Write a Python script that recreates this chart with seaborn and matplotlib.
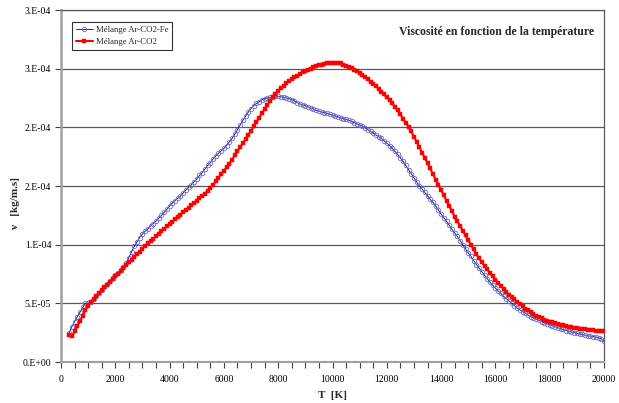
import numpy as np
import pandas as pd
import matplotlib
matplotlib.use("Agg")
import matplotlib.pyplot as plt
import seaborn as sns
from matplotlib.ticker import MultipleLocator, FixedLocator

# Temperature grid (K), 100 K sampling
T = np.arange(300, 20001, 100)

# Viscosity values in units of 1e-5 kg/m.s
fe_vals = [
    2.5, 3.0, 3.45, 3.85, 4.25, 4.65, 5.0,
    5.0, 5.1, 5.4, 5.65, 5.9, 6.15, 6.4, 6.65, 6.9, 7.2,
    7.4, 7.6, 7.85, 8.1, 8.4, 8.9, 9.4, 9.85, 10.25, 10.6,
    10.9, 11.15, 11.35, 11.6, 11.8, 12.0, 12.25, 12.5, 12.75, 13.0,
    13.3, 13.55, 13.75, 13.95, 14.15, 14.4, 14.65, 14.9, 15.1, 15.35,
    15.6, 15.9, 16.15, 16.45, 16.75, 17.0, 17.3, 17.55, 17.8, 18.0,
    18.2, 18.45, 18.75, 19.05, 19.4, 19.8, 20.2, 20.6, 20.95, 21.3,
    21.6, 21.85, 22.05, 22.2, 22.35, 22.45, 22.5, 22.55, 22.6, 22.65,
    22.65, 22.6, 22.55, 22.5, 22.45, 22.35, 22.25, 22.1, 22.0, 21.9,
    21.85, 21.75, 21.65, 21.55, 21.45, 21.4, 21.3, 21.25, 21.2, 21.1,
    21.05, 20.95, 20.9, 20.8, 20.75, 20.7, 20.6, 20.5, 20.4, 20.3,
    20.2, 20.1, 19.95, 19.8, 19.65, 19.5, 19.35, 19.2, 19.05, 18.85,
    18.65, 18.45, 18.2, 17.95, 17.7, 17.4, 17.1, 16.75, 16.4, 16.05,
    15.7, 15.35, 15.0, 14.75, 14.45, 14.15, 13.85, 13.6, 13.3, 12.95,
    12.6, 12.3, 12.0, 11.65, 11.3, 11.0, 10.7, 10.35, 10.0, 9.65,
    9.3, 9.0, 8.65, 8.3, 8.0, 7.7, 7.4, 7.1, 6.8, 6.55,
    6.3, 6.05, 5.85, 5.6, 5.4, 5.2, 5.0, 4.8, 4.6, 4.45,
    4.3, 4.15, 4.0, 3.85, 3.75, 3.65, 3.55, 3.45, 3.35, 3.25,
    3.18, 3.1, 3.0, 2.92, 2.85, 2.77, 2.68, 2.62, 2.56, 2.5,
    2.45, 2.4, 2.35, 2.3, 2.25, 2.2, 2.17, 2.13, 2.08, 1.95,
    1.75,
]

co2_vals = [
    2.3, 2.2, 2.6, 3.05, 3.5, 3.95, 4.4,
    4.8, 5.1, 5.4, 5.65, 5.9, 6.15, 6.4, 6.6, 6.85, 7.05,
    7.3, 7.5, 7.75, 8.0, 8.25, 8.5, 8.7, 8.95, 9.2, 9.4,
    9.65, 9.9, 10.1, 10.3, 10.5, 10.75, 10.95, 11.15, 11.35, 11.55,
    11.75, 11.95, 12.15, 12.35, 12.55, 12.75, 12.95, 13.15, 13.35, 13.55,
    13.75, 13.95, 14.15, 14.35, 14.6, 14.85, 15.1, 15.4, 15.7, 16.0,
    16.3, 16.6, 16.9, 17.25, 17.6, 17.95, 18.3, 18.65, 19.0, 19.35,
    19.7, 20.1, 20.45, 20.8, 21.2, 21.55, 21.9, 22.25, 22.55, 22.85,
    23.1, 23.35, 23.55, 23.75, 23.95, 24.1, 24.25, 24.4, 24.55, 24.7,
    24.8, 24.9, 25.0, 25.1, 25.2, 25.3, 25.35, 25.4, 25.45, 25.5,
    25.5, 25.5, 25.5, 25.45, 25.35, 25.25, 25.15, 25.05, 24.9, 24.8,
    24.65, 24.5, 24.3, 24.1, 23.9, 23.7, 23.5, 23.3, 23.05, 22.8,
    22.55, 22.3, 22.05, 21.75, 21.45, 21.1, 20.75, 20.4, 20.05, 19.65,
    19.2, 18.75, 18.3, 17.85, 17.4, 16.95, 16.5, 16.0, 15.55, 15.1,
    14.65, 14.2, 13.75, 13.3, 12.85, 12.4, 12.0, 11.6, 11.2, 10.8,
    10.4, 10.0, 9.6, 9.2, 8.85, 8.5, 8.2, 7.9, 7.6, 7.3,
    7.0, 6.75, 6.5, 6.25, 6.0, 5.75, 5.55, 5.35, 5.15, 4.95,
    4.75, 4.55, 4.4, 4.25, 4.1, 3.95, 3.85, 3.72, 3.62, 3.53,
    3.45, 3.38, 3.3, 3.24, 3.18, 3.12, 3.07, 3.02, 2.98, 2.93,
    2.89, 2.85, 2.82, 2.79, 2.76, 2.74, 2.71, 2.68, 2.65, 2.62,
    2.6,
]

series_names = ["Mélange Ar-CO2-Fe", "Mélange Ar-CO2"]
y_ticks = [0, 5e-5, 1e-4, 1.5e-4, 2e-4, 2.5e-4, 3e-4]
y_tick_labels = ["0.E+00", "5.E-05", "1.E-04", "2.E-04", "2.E-04", "3.E-04", "3.E-04"]
x_ticks = list(range(0, 20001, 2000))

df_fe = pd.DataFrame({"T": T, "mu": np.array(fe_vals) * 1e-5})
df_co2 = pd.DataFrame({"T": T, "mu": np.array(co2_vals) * 1e-5})

sns.set_style("white")
plt.rcParams["font.family"] = ["Liberation Serif", "DejaVu Serif"]

fig = plt.figure(figsize=(6.19, 4.03), dpi=100)
ax = fig.add_axes([61 / 619, 1 - 362 / 403, (604 - 61) / 619, (362 - 10) / 403])

for v in y_ticks[1:]:
    ax.axhline(v, color="#5a5a5a", lw=0.9, zorder=0)

sns.lineplot(data=df_fe, x="T", y="mu", ax=ax, color="#000080", lw=0.6,
             marker="o", markersize=3.2, markerfacecolor="none",
             markeredgecolor="#6a6ac4", markeredgewidth=0.6,
             label=series_names[0], zorder=3)
sns.lineplot(data=df_co2, x="T", y="mu", ax=ax, color="#ff0000", lw=1.5,
             marker="s", markersize=3.4, markerfacecolor="#ff0000",
             markeredgecolor="#ff0000", markeredgewidth=0.3,
             label=series_names[1], zorder=4)

ax.set_xlim(0, 20000)
ax.set_ylim(0, 3e-4)
ax.xaxis.set_major_locator(FixedLocator(x_ticks))
ax.xaxis.set_minor_locator(MultipleLocator(500))
ax.set_xticklabels([str(v) for v in x_ticks])
ax.yaxis.set_major_locator(FixedLocator(y_ticks))
ax.set_yticklabels(y_tick_labels)

ax.tick_params(axis="both", which="both", direction="out", labelsize=7,
               colors="#000000", length=4, width=0.8, pad=3)
ax.tick_params(axis="x", which="both", bottom=True, color="#404040")
ax.tick_params(axis="y", which="both", left=True, color="#404040")
ax.tick_params(axis="x", pad=5)

for side in ["top", "right"]:
    ax.spines[side].set_visible(True)
    ax.spines[side].set_color("#5a5a5a")
    ax.spines[side].set_linewidth(0.9)
ax.spines["left"].set_color("#a0a0a0")
ax.spines["left"].set_linewidth(1.8)
ax.spines["bottom"].set_color("#a0a0a0")
ax.spines["bottom"].set_linewidth(1.5)

ax.set_xlabel("")
ax.set_ylabel("")
fig.text(333 / 619, 1 - 395 / 403, "T  [K]", ha="center", va="center",
         fontsize=8, fontweight="bold")
fig.text(16 / 619, 1 - 203 / 403, "ν   [kg/m.s]", ha="center", va="center",
         rotation=90, fontsize=8, fontweight="bold")
ax.text(0.982, 0.955, "Viscosité en fonction de la température", transform=ax.transAxes,
        ha="right", va="top", fontsize=8.5, fontweight="bold")

leg = ax.legend(loc="upper left", bbox_to_anchor=(11 / 543, 1 - 12 / 352),
                frameon=True, fancybox=False, fontsize=6.3, borderpad=0.4,
                handlelength=2.0, handletextpad=0.3, labelspacing=0.5,
                borderaxespad=0)
leg.get_frame().set_edgecolor("#000000")
leg.get_frame().set_linewidth(0.8)

fig.savefig("out.png", dpi=100)
